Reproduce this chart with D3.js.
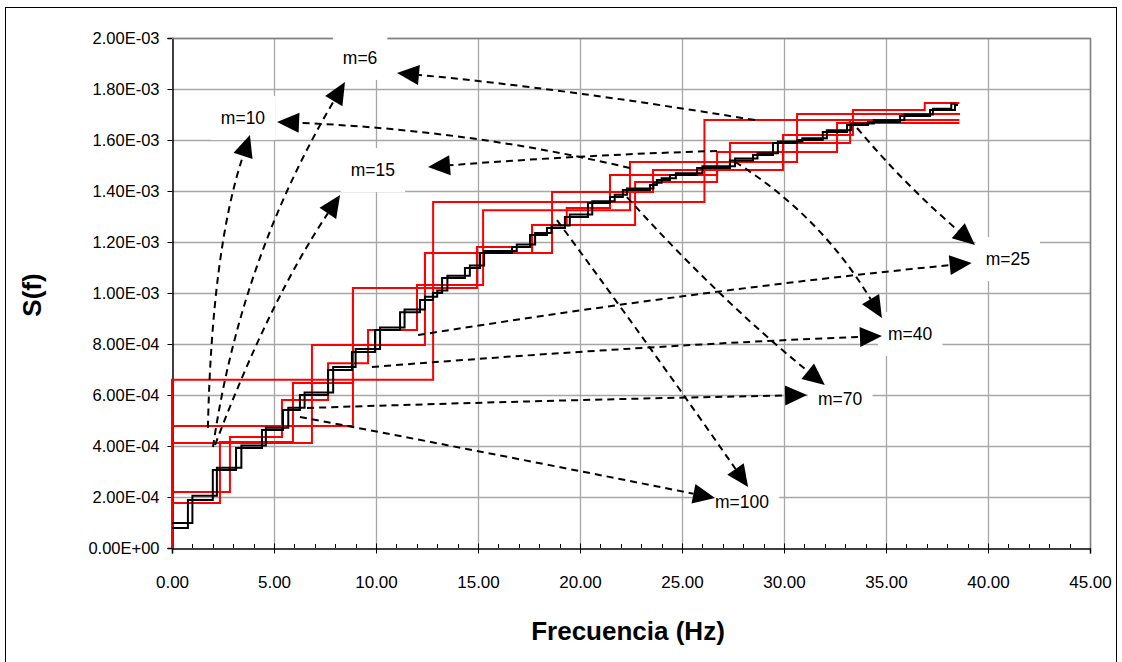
<!DOCTYPE html>
<html>
<head>
<meta charset="utf-8">
<script src="https://cdn.jsdelivr.net/npm/d3@7"></script>
<style>
  body { margin: 0; background: #fff; }
  text { font-family: "Liberation Sans", Arial, sans-serif; }
</style>
</head>
<body>
<div id="chart-area"></div>
<script>

// ---- data ----
var xTicks = [0, 5, 10, 15, 20, 25, 30, 35, 40, 45];
var yTicks = [0, 0.0002, 0.0004, 0.0006, 0.0008, 0.001, 0.0012, 0.0014, 0.0016, 0.0018, 0.002];

// black curves (step after): frequency of each step and level
var blackA_f = [0, 0.78, 2.0, 3.14, 4.41, 5.44, 6.27, 7.65, 8.82, 9.95, 11.18, 12.16, 12.79, 13.24, 14.36, 15.1, 16.67, 17.55, 18.38, 19.26, 20.39, 21.47, 22.1, 23.43, 23.77, 24.41, 25.74, 27.35, 28.48, 29.46, 30.64, 31.9, 33.09, 34.12, 35.69, 37.16, 38.38, 38.53];
var blackA_s = [7.8e-5, 1.88e-4, 3.06e-4, 3.92e-4, 4.63e-4, 5.41e-4, 6.0e-4, 6.98e-4, 7.69e-4, 8.55e-4, 9.25e-4, 9.73e-4, 1.0e-3, 1.059e-3, 1.098e-3, 1.157e-3, 1.18e-3, 1.227e-3, 1.255e-3, 1.298e-3, 1.353e-3, 1.376e-3, 1.404e-3, 1.424e-3, 1.443e-3, 1.463e-3, 1.49e-3, 1.52e-3, 1.541e-3, 1.588e-3, 1.6e-3, 1.631e-3, 1.659e-3, 1.671e-3, 1.694e-3, 1.718e-3, 1.737e-3, 1.737e-3];

var blackB_f = [0, 1.0, 2.2, 3.4, 4.6, 5.7, 6.5, 7.9, 9.0, 10.2, 11.4, 12.4, 13.0, 13.5, 14.6, 15.3, 16.9, 17.8, 18.6, 19.5, 20.6, 21.7, 22.3, 23.6, 24.0, 24.7, 26.0, 27.6, 28.7, 29.7, 30.9, 32.1, 33.3, 34.4, 35.9, 37.3, 38.2, 38.4];
var blackB_s = [9.8e-5, 2.05e-4, 3.15e-4, 4.02e-4, 4.72e-4, 5.5e-4, 6.1e-4, 7.1e-4, 7.8e-4, 8.65e-4, 9.35e-4, 9.85e-4, 1.01e-3, 1.068e-3, 1.108e-3, 1.165e-3, 1.19e-3, 1.235e-3, 1.265e-3, 1.308e-3, 1.36e-3, 1.385e-3, 1.41e-3, 1.432e-3, 1.45e-3, 1.47e-3, 1.497e-3, 1.527e-3, 1.548e-3, 1.594e-3, 1.607e-3, 1.638e-3, 1.665e-3, 1.677e-3, 1.7e-3, 1.723e-3, 1.742e-3, 1.742e-3];

// red curves: block edges (Hz) and block levels
var redA_f = [0, 2.35, 5.93, 8.87, 12.4, 17.65, 22.7, 26.72, 29.95, 33.38, 36.9, 38.6];
var redA_s = [1.76e-4, 4.16e-4, 6.47e-4, 1.02e-3, 1.157e-3, 1.267e-3, 1.435e-3, 1.482e-3, 1.62e-3, 1.718e-3, 1.745e-3];

var redB_f = [0, 2.84, 5.39, 7.65, 9.61, 12.01, 15.25, 22.45, 30.64, 38.63];
var redB_s = [2.2e-4, 4.35e-4, 5.8e-4, 7.25e-4, 8.55e-4, 1.031e-3, 1.325e-3, 1.514e-3, 1.702e-3];

var redC_f = [0, 6.86, 12.4, 18.63, 23.58, 27.35, 33.24, 38.6];
var redC_s = [4.12e-4, 7.96e-4, 1.157e-3, 1.396e-3, 1.482e-3, 1.588e-3, 1.678e-3];

var redD_f = [0, 8.87, 14.95, 17.65, 19.35, 21.47, 26.72, 32.6, 38.6];
var redD_s = [4.78e-4, 1.02e-3, 1.18e-3, 1.267e-3, 1.333e-3, 1.463e-3, 1.553e-3, 1.667e-3];

var redE_f = [0, 12.8, 26.1, 38.5];
var redE_s = [6.6e-4, 1.357e-3, 1.678e-3];

// annotation labels (centre, data units) and arrows (tail, control, head)
var labelNames = ["m=6", "m=10", "m=15", "m=25", "m=40", "m=70", "m=100"];
var labelF = [9.22, 3.48, 9.85, 40.97, 36.18, 32.75, 27.94];
var labelS = [1.922e-3, 1.686e-3, 1.482e-3, 1.133e-3, 8.39e-4, 5.84e-4, 1.8e-4];

var arrows = [
  [[28.58, 1.678e-3], [19.02, 1.804e-3], [11.03, 1.863e-3]],
  [[2.01, 3.96e-4], [3.33, 1.129e-3], [8.48, 1.827e-3]],
  [[22.45, 1.49e-3], [14.6, 1.639e-3], [5.15, 1.671e-3]],
  [[1.76, 4.71e-4], [1.96, 1.169e-3], [3.82, 1.62e-3]],
  [[26.72, 1.557e-3], [20.0, 1.541e-3], [12.55, 1.494e-3]],
  [[2.11, 4.04e-4], [4.8, 9.73e-4], [8.24, 1.384e-3]],
  [[33.58, 1.647e-3], [35.93, 1.424e-3], [39.36, 1.188e-3]],
  [[12.06, 8.35e-4], [25.9, 1.012e-3], [39.2, 1.118e-3]],
  [[27.6, 1.514e-3], [31.76, 1.306e-3], [34.8, 9.02e-4]],
  [[9.8, 7.1e-4], [23.43, 7.96e-4], [34.8, 8.31e-4]],
  [[22.3, 1.376e-3], [26.86, 9.73e-4], [32.0, 6.39e-4]],
  [[6.62, 5.49e-4], [18.53, 5.8e-4], [31.13, 6.0e-4]],
  [[18.87, 1.286e-3], [23.92, 7.37e-4], [28.24, 2.39e-4]],
  [[6.27, 5.14e-4], [16.08, 3.65e-4], [26.62, 1.96e-4]]
];

// ---- chart ----
var W = 1122, H = 662;
var pLeft = 172, pRight = 1090, pTop = 38, pBottom = 548;

var svg = d3.select("#chart-area")
  .append("svg")
    .attr("width", W)
    .attr("height", H);

svg.append("rect")
  .attr("x", 5.5).attr("y", 7.5)
  .attr("width", 1111).attr("height", 670)
  .attr("fill", "#fff")
  .attr("stroke", "#000")
  .attr("stroke-width", 1);

var x = d3.scaleLinear().domain([0, 45]).range([pLeft, pRight]);
var y = d3.scaleLinear().domain([0, 0.002]).range([pBottom, pTop]);

// grid
svg.append("g").selectAll("line")
  .data(yTicks.slice(1))
  .enter().append("line")
    .attr("x1", pLeft).attr("x2", pRight)
    .attr("y1", d => Math.round(y(d)) + 0.5)
    .attr("y2", d => Math.round(y(d)) + 0.5)
    .attr("stroke", "#a6a6a6").attr("stroke-width", 1.3);

svg.append("g").selectAll("line")
  .data(xTicks.slice(1))
  .enter().append("line")
    .attr("y1", pTop).attr("y2", pBottom)
    .attr("x1", d => Math.round(x(d)) + 0.5)
    .attr("x2", d => Math.round(x(d)) + 0.5)
    .attr("stroke", "#a6a6a6").attr("stroke-width", 1.3);

function expFmt(v) {
  var s = v.toExponential(2).split("e");
  var e = parseInt(s[1], 10);
  return s[0] + "E" + (e < 0 ? "-" : "+") + (Math.abs(e) < 10 ? "0" : "") + Math.abs(e);
}

// axes
var yAxis = d3.axisLeft(y).tickValues(yTicks).tickFormat(expFmt).tickSize(5).tickPadding(8);
var gy = svg.append("g").attr("transform", "translate(" + (pLeft + 0.5) + ",0)").call(yAxis);
gy.select(".domain").attr("stroke", "#000").attr("stroke-width", 1.5);
gy.selectAll(".tick line").attr("stroke", "#000");
gy.selectAll("text").attr("font-size", 16.5).attr("fill", "#000")
  .style("font-family", "Liberation Sans, Arial, sans-serif");

var minor = d3.range(0, 46, 1);
svg.append("g").selectAll("line")
  .data(minor)
  .enter().append("line")
    .attr("x1", d => Math.round(x(d)) + 0.5).attr("x2", d => Math.round(x(d)) + 0.5)
    .attr("y1", pBottom - 4).attr("y2", pBottom)
    .attr("stroke", "#000");

var xAxis = d3.axisBottom(x).tickValues(xTicks).tickFormat(d3.format(".2f")).tickSize(5).tickPadding(22);
var gx = svg.append("g").attr("transform", "translate(0," + (pBottom + 0.5) + ")").call(xAxis);
gx.select(".domain").attr("stroke", "#000").attr("stroke-width", 1.5);
gx.selectAll(".tick line").attr("stroke", "#000").attr("y1", -5);
gx.selectAll("text").attr("font-size", 17).attr("fill", "#000")
  .style("font-family", "Liberation Sans, Arial, sans-serif");

// plot border top/right
svg.append("line").attr("x1", pLeft).attr("x2", pRight + 1).attr("y1", pTop + 0.5).attr("y2", pTop + 0.5)
  .attr("stroke", "#808080").attr("stroke-width", 1.5);
svg.append("line").attr("x1", pRight + 0.5).attr("x2", pRight + 0.5).attr("y1", pTop).attr("y2", pBottom)
  .attr("stroke", "#808080").attr("stroke-width", 1.5);

// titles
svg.append("text")
  .attr("x", 628).attr("y", 640)
  .attr("text-anchor", "middle")
  .attr("font-size", 26).attr("font-weight", "bold")
  .text("Frecuencia (Hz)");

svg.append("text")
  .attr("transform", "translate(41,295) rotate(-90)")
  .attr("text-anchor", "middle")
  .attr("font-size", 26).attr("font-weight", "bold")
  .text("S(f)");

// step series
function stepPoints(fs, ss, fromZero) {
  var pts = [];
  if (fromZero) pts.push([fs[0], 0]);
  for (var i = 0; i < ss.length; i++) pts.push([fs[i], ss[i]]);
  pts.push([fs[fs.length - 1], ss[ss.length - 1]]);
  return pts;
}

var step = d3.line()
  .x(d => x(d[0]))
  .y(d => y(d[1]))
  .curve(d3.curveStepAfter);

var redSeries = [
  stepPoints(redE_f, redE_s, true),
  stepPoints(redD_f, redD_s, true),
  stepPoints(redC_f, redC_s, true),
  stepPoints(redB_f, redB_s, true),
  stepPoints(redA_f, redA_s, true)
];
var blackSeries = [
  stepPoints(blackA_f, blackA_s, false),
  stepPoints(blackB_f, blackB_s, false)
];

svg.append("g").selectAll("path")
  .data(redSeries)
  .enter().append("path")
    .attr("d", step)
    .attr("fill", "none")
    .attr("stroke", "#ff0000")
    .attr("stroke-width", 2);

svg.append("g").selectAll("path")
  .data(blackSeries)
  .enter().append("path")
    .attr("d", step)
    .attr("fill", "none")
    .attr("stroke", "#000")
    .attr("stroke-width", 2);

// label boxes and text
var labels = svg.append("g").selectAll("g")
  .data(labelNames)
  .enter().append("g");

labels.append("text")
  .attr("x", (d, i) => x(labelF[i]))
  .attr("y", (d, i) => y(labelS[i]) + 6)
  .attr("text-anchor", "middle")
  .attr("font-size", 17.5)
  .text(d => d);

labels.each(function() {
  var g = d3.select(this);
  var bb = g.select("text").node().getBBox();
  g.insert("rect", "text")
    .attr("x", bb.x - 10).attr("y", bb.y - 12)
    .attr("width", bb.width + 20).attr("height", bb.height + 24)
    .attr("fill", "#fff");
});

// arrows
var ag = svg.append("g");
arrows.forEach(function(a) {
  var p0 = [x(a[0][0]), y(a[0][1])];
  var c = [x(a[1][0]), y(a[1][1])];
  var p1 = [x(a[2][0]), y(a[2][1])];
  var ang = Math.atan2(p1[1] - c[1], p1[0] - c[0]);
  var len = 22, half = 10;
  var bx = p1[0] - len * Math.cos(ang), by = p1[1] - len * Math.sin(ang);
  ag.append("path")
    .attr("d", "M" + p0[0] + "," + p0[1] + "Q" + c[0] + "," + c[1] + " " + bx + "," + by)
    .attr("fill", "none")
    .attr("stroke", "#000")
    .attr("stroke-width", 2)
    .attr("stroke-dasharray", "7,5");
  var pts = [
    p1,
    [bx + half * Math.sin(ang), by - half * Math.cos(ang)],
    [bx - half * Math.sin(ang), by + half * Math.cos(ang)]
  ];
  ag.append("polygon")
    .attr("points", pts.map(p => p.join(",")).join(" "))
    .attr("fill", "#000");
});

</script>
</body>
</html>
